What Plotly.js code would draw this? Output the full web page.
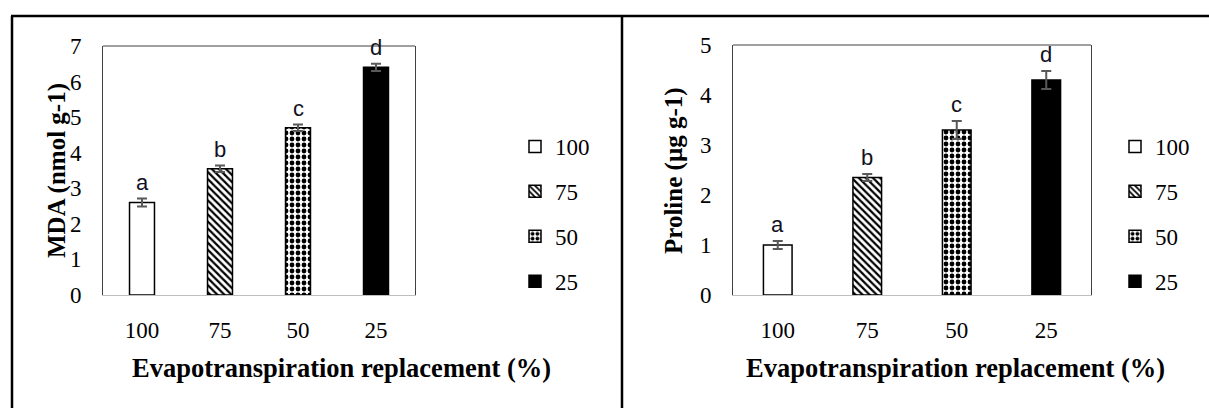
<!DOCTYPE html>
<html>
<head>
<meta charset="utf-8">
<script src="https://cdn.plot.ly/plotly-3.0.1.min.js"></script>
<style>html,body{margin:0;padding:0;background:#fff;}#chart{width:1209px;height:408px;}</style>
</head>
<body>
<div id="chart"></div>
<script>
// ---- data ----
const categories = ['100', '75', '50', '25'];
const mdaMeans = [2.6, 3.55, 4.7, 6.4];
const mdaErr = [0.11, 0.09, 0.09, 0.1];
const prolineMeans = [1.0, 2.35, 3.3, 4.3];
const prolineErr = [0.08, 0.07, 0.18, 0.18];
const letters = ['a', 'b', 'c', 'd'];
const xTitle = 'Evapotranspiration replacement (%)';
const mdaTitle = 'MDA (nmol g-1)';
const prolineTitle = 'Proline (µg g-1)';

// ---- styles ----
const fills = ['white', 'white', 'white', 'black'];
const patterns = [
  {shape: ''},
  {shape: '\\', fgcolor: 'black', bgcolor: 'white', size: 5, solidity: 0.45, fillmode: 'replace'},
  {shape: '.', fgcolor: 'black', bgcolor: 'white', size: 6, solidity: 0.5, fillmode: 'replace'},
  {shape: ''}
];
const W = 1209, H = 408;
const px = v => v / W;
const py = v => 1 - v / H;
const serif = "Liberation Serif";
const sans = "Liberation Sans";

function makeTraces(means, errs, xa, ya, leg) {
  return categories.map((c, i) => ({
    type: 'bar',
    x: [c], y: [means[i]],
    name: c,
    xaxis: xa, yaxis: ya,
    legend: leg,
    legendgroup: leg + i,
    width: 0.32,
    marker: {color: fills[i], line: {color: 'black', width: 1.5}, pattern: patterns[i]},
    error_y: {type: 'data', array: [errs[i]], visible: true, color: '#595959', thickness: 2, width: 5},
    hoverinfo: 'skip'
  }));
}

const traces = [
  ...makeTraces(mdaMeans, mdaErr, 'x', 'y', 'legend'),
  ...makeTraces(prolineMeans, prolineErr, 'x2', 'y2', 'legend2')
];

function xAxis(dom, anchor) {
  return {
    domain: dom, type: 'category', categoryorder: 'array', categoryarray: categories, anchor: anchor,
    range: [-0.5, 3.5], showline: true, linecolor: '#bfbfbf', linewidth: 1,
    ticks: '', tickfont: {family: serif, size: 23, color: 'black'}, ticklabelstandoff: 14,
    showgrid: false, zeroline: false, fixedrange: true
  };
}
function yAxis(dom, maxv, anchor) {
  return {
    domain: dom, range: [0, maxv], dtick: 1, showline: true, mirror: true, linecolor: '#404040', linewidth: 1,
    ticks: '', tickfont: {family: serif, size: 23, color: 'black'}, ticklabelstandoff: 16,
    showgrid: false, zeroline: false, fixedrange: true, anchor: anchor
  };
}

const annotations = [];
categories.forEach((c, i) => {
  const xi = categories.indexOf(c);
  annotations.push({x: xi, y: mdaMeans[i] + mdaErr[i], xref: 'x', yref: 'y', text: letters[i], showarrow: false,
    yanchor: 'bottom', yshift: 2, font: {family: sans, size: 22, color: '#111122'}});
  annotations.push({x: xi, y: prolineMeans[i] + prolineErr[i], xref: 'x2', yref: 'y2', text: letters[i], showarrow: false,
    yanchor: 'bottom', yshift: 2, font: {family: sans, size: 22, color: '#111122'}});
});
const titleFont = {family: serif, size: 25, color: 'black'};
const xTitleFont = {family: serif, size: 26.5, color: 'black'};
annotations.push({x: px(341), y: py(368), xref: 'paper', yref: 'paper', text: '<b>' + xTitle + '</b>', showarrow: false, font: xTitleFont, xanchor: 'center', yanchor: 'middle'});
annotations.push({x: px(955), y: py(368), xref: 'paper', yref: 'paper', text: '<b>' + xTitle + '</b>', showarrow: false, font: xTitleFont, xanchor: 'center', yanchor: 'middle'});
annotations.push({x: px(57), y: py(171), xref: 'paper', yref: 'paper', text: '<b>' + mdaTitle + '</b>', showarrow: false, font: titleFont, textangle: -90, xanchor: 'center', yanchor: 'middle'});
annotations.push({x: px(674), y: py(171), xref: 'paper', yref: 'paper', text: '<b>' + prolineTitle + '</b>', showarrow: false, font: titleFont, textangle: -90, xanchor: 'center', yanchor: 'middle'});

const frameLine = {color: 'black', width: 2.5};
const shapes = [
  {type: 'line', xref: 'paper', yref: 'paper', x0: px(11), x1: 1, y0: py(16), y1: py(16), line: frameLine},
  {type: 'line', xref: 'paper', yref: 'paper', x0: px(12), x1: px(12), y0: py(16), y1: 0, line: frameLine},
  {type: 'line', xref: 'paper', yref: 'paper', x0: px(622), x1: px(622), y0: py(16), y1: 0, line: frameLine},
  {type: 'line', xref: 'x domain', yref: 'y domain', x0: 0, x1: 1, y0: 1, y1: 1, line: {color: '#404040', width: 1}},
  {type: 'line', xref: 'x2 domain', yref: 'y2 domain', x0: 0, x1: 1, y0: 1, y1: 1, line: {color: '#404040', width: 1}}
];

const legendBase = {
  orientation: 'v', xanchor: 'left', yanchor: 'top', traceorder: 'grouped',
  font: {family: serif, size: 23, color: 'black'}, tracegroupgap: 12, bgcolor: 'rgba(0,0,0,0)', borderwidth: 0
};

const layout = {
  width: W, height: H,
  margin: {l: 0, r: 0, t: 0, b: 0},
  font: {family: serif, size: 23, color: 'black'},
  paper_bgcolor: 'white', plot_bgcolor: 'white',
  barmode: 'overlay',
  showlegend: true,
  xaxis: xAxis([px(103), px(415)], 'y'),
  yaxis: yAxis([py(295), py(46)], 7, 'x'),
  xaxis2: xAxis([px(733), px(1091)], 'y2'),
  yaxis2: yAxis([py(295), py(45)], 5, 'x2'),
  legend: Object.assign({}, legendBase, {x: px(515), y: py(125)}),
  legend2: Object.assign({}, legendBase, {x: px(1115), y: py(125)}),
  annotations: annotations,
  shapes: shapes
};

Plotly.newPlot('chart', traces, layout, {staticPlot: true, displayModeBar: false});
</script>
</body>
</html>
